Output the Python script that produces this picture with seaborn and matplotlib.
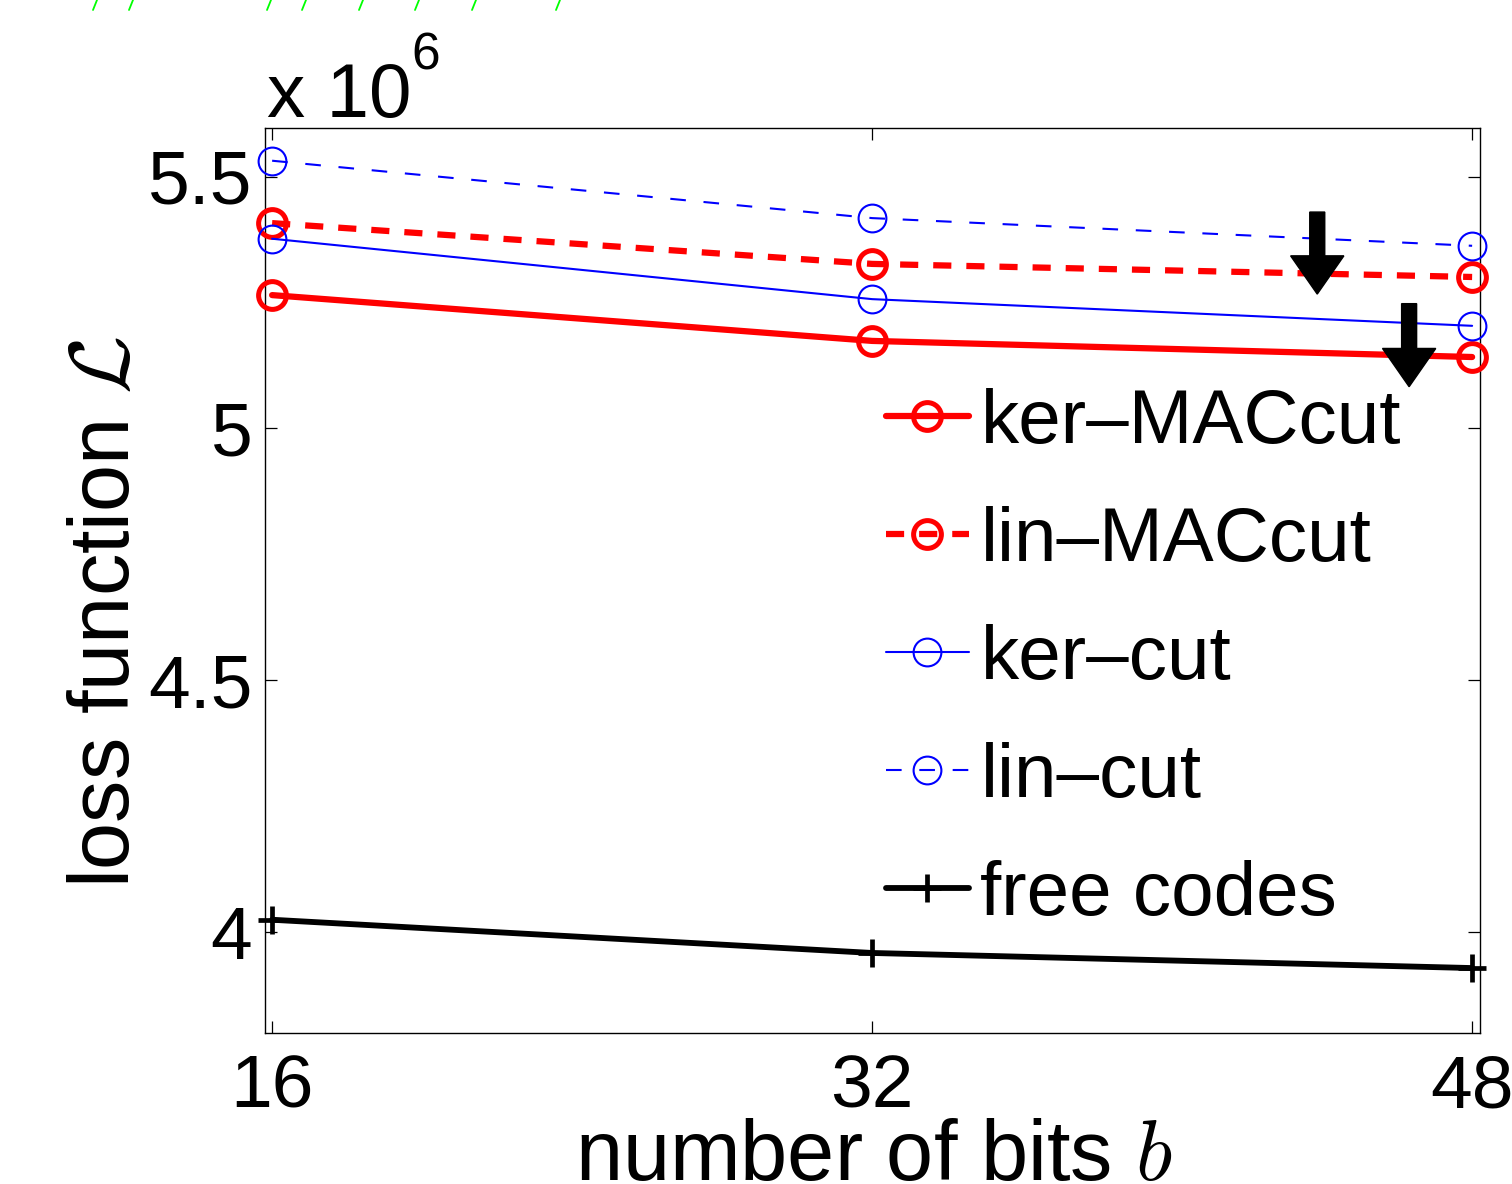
import matplotlib
matplotlib.use("Agg")
import matplotlib.pyplot as plt
from matplotlib.lines import Line2D
import pandas as pd
import seaborn as sns

# ---- data -------------------------------------------------------------
bits = [16, 32, 48]
ker_maccut = [5.265, 5.174, 5.142]
lin_maccut = [5.408, 5.327, 5.301]
ker_cut = [5.377, 5.257, 5.204]
lin_cut = [5.532, 5.418, 5.363]
free_codes = [4.024, 3.958, 3.928]

series_names = ["ker–MACcut", "lin–MACcut", "ker–cut", "lin–cut", "free codes"]
series_values = [ker_maccut, lin_maccut, ker_cut, lin_cut, free_codes]

x_ticks = [16, 32, 48]
y_ticks = [4.0, 4.5, 5.0, 5.5]
y_tick_labels = ["4", "4.5", "5", "5.5"]

# ---- style ------------------------------------------------------------
sns.set_theme(style="white")
plt.rcParams["font.family"] = ["Liberation Sans", "DejaVu Sans"]
plt.rcParams["mathtext.fontset"] = "cm"
plt.rcParams["text.color"] = "black"

W, H = 1512, 1184
fig = plt.figure(figsize=(W / 100, H / 100), dpi=100)
ax = fig.add_axes([265 / W, 1 - 1033 / H, 1215 / W, 905 / H])

styles = {
    "ker–MACcut": dict(color="#ff0000", linewidth=4.5, linestyle="-",
                       marker="o", markersize=20, markeredgewidth=3.6),
    "lin–MACcut": dict(color="#ff0000", linewidth=4.5, linestyle=(0, (2.9, 2.4)),
                       marker="o", markersize=20, markeredgewidth=3.6),
    "ker–cut": dict(color="#0000ff", linewidth=1.5, linestyle="-",
                    marker="o", markersize=20, markeredgewidth=1.5),
    "lin–cut": dict(color="#0000ff", linewidth=1.5, linestyle=(0, (7.5, 8.5)),
                    marker="o", markersize=20, markeredgewidth=1.5),
    "free codes": dict(color="#000000", linewidth=4.2, linestyle="-",
                       marker="+", markersize=20, markeredgewidth=3.4),
}

for name, vals in zip(series_names, series_values):
    df = pd.DataFrame({"bits": bits, "loss": vals})
    st = styles[name]
    sns.lineplot(data=df, x="bits", y="loss", ax=ax, errorbar=None,
                 color=st["color"], linewidth=st["linewidth"],
                 linestyle=st["linestyle"], marker=st["marker"],
                 markersize=st["markersize"], markerfacecolor="none",
                 markeredgecolor=st["color"], markeredgewidth=st["markeredgewidth"],
                 label=name, clip_on=False, zorder=3)

# ---- arrows marking the MACcut curves ----------------------------------
for ax_x, y_from, y_to in [(43.87, 5.430, 5.267), (46.32, 5.248, 5.083)]:
    ax.arrow(ax_x, y_from, 0, y_to - y_from, width=0.40, head_width=1.42,
             head_length=0.076, length_includes_head=True,
             color="black", zorder=4)

# ---- axes -------------------------------------------------------------
ax.set_xlim(15.81, 48.21)
ax.set_ylim(3.799, 5.597)
ax.set_xticks(x_ticks)
ax.set_xticklabels([str(t) for t in x_ticks])
ax.set_yticks(y_ticks)
ax.set_yticklabels(y_tick_labels)
ax.tick_params(axis="both", direction="in", length=8.5, width=0.9,
               colors="black", labelsize=54, top=True, right=True,
               bottom=True, left=True)
ax.tick_params(axis="x", pad=15)
ax.tick_params(axis="y", pad=9)
for sp in ax.spines.values():
    sp.set_color("black")
    sp.set_linewidth(1.0)

ax.set_xlabel(r"number of bits $b$", fontsize=61, va="baseline", color="black")
ax.xaxis.set_label_coords(0.501, (1033 - 1180) / 905)
ax.set_ylabel(r"loss function $\mathcal{L}$", fontsize=61, va="baseline",
              color="black")
ax.yaxis.set_label_coords((129 - 265) / 1215, (1033 - 612) / 905)

# exponent of the y axis
fig.text(267 / W, 1 - 117 / H, "x 10", fontsize=55, ha="left", va="baseline",
         color="black")
fig.text(411 / W, 1 - 70 / H, "6", fontsize=37, ha="left", va="baseline",
         color="black")

# ---- legend -----------------------------------------------------------
leg = ax.legend(loc="upper left", bbox_to_anchor=((886 - 265) / 1215, 0.713),
                frameon=False, fontsize=55, handlelength=1.086,
                handletextpad=0.15, labelspacing=0.615, borderpad=0,
                borderaxespad=0, numpoints=1)
for txt in leg.get_texts():
    txt.set_color("black")

# ---- thin green hatch strokes along the top edge ----------------------
for gx in [93, 129, 267, 302, 359, 415, 472, 556]:
    fig.add_artist(Line2D([gx / W, (gx + 4) / W], [1 - 10 / H, 1.0],
                          color="#00ff00", linewidth=1.3))

fig.savefig("out.png", dpi=100)
